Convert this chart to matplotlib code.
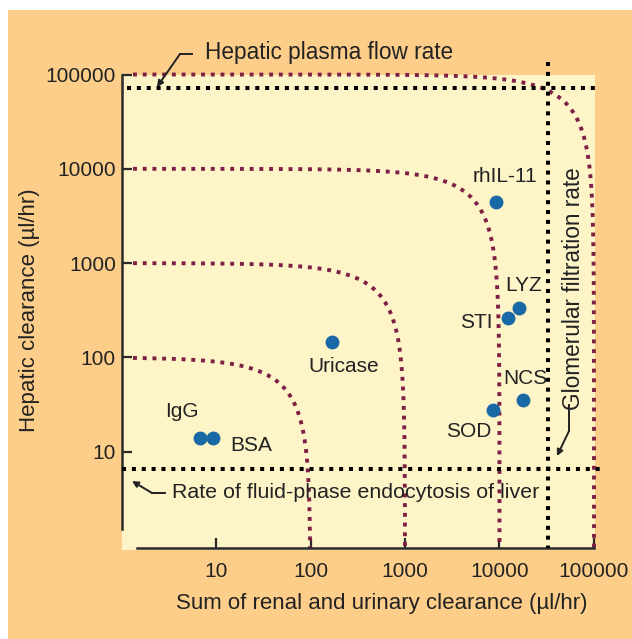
import numpy as np
import matplotlib
matplotlib.use("Agg")
import matplotlib.pyplot as plt
from matplotlib.patches import Rectangle, FancyArrowPatch
from matplotlib.lines import Line2D

plt.rcParams["font.family"] = ["Liberation Sans", "DejaVu Sans"]

# ---- data ---------------------------------------------------------------
proteins = ["IgG", "BSA", "Uricase", "rhIL-11", "LYZ", "STI", "NCS", "SOD"]
renal_clearance = [6.7, 9.4, 168, 9200, 16000, 12300, 17900, 8500]      # µl/hr
hepatic_clearance = [14, 14, 147, 4500, 334, 262, 35, 28]             # µl/hr

# iso-clearance contours: renal + hepatic = total
total_clearance_levels = [100, 1000, 10000, 100000]

hepatic_plasma_flow = 72000       # µl/hr
fluid_phase_endocytosis = 6.5     # µl/hr
glomerular_filtration = 32600     # µl/hr

tick_values = [10, 100, 1000, 10000, 100000]
tick_labels = ["10", "100", "1000", "10000", "100000"]

# ---- styling ------------------------------------------------------------
W, H = 632, 639
BG = "#FDCE8A"
PANEL = "#FDF4C8"
MAROON = "#7E1F45"
BLUE = "#1869A6"
INK = "#222222"
FS = 15
FS_NOTE = 16.3
FS_AXIS = 16


def fx(px):
    return px / W


def fy(py):
    return 1 - py / H


fig = plt.figure(figsize=(W / 100, H / 100), dpi=100, facecolor="white")
fig.patches.append(Rectangle((fx(8), 0), 1, fy(10), transform=fig.transFigure,
                             facecolor=BG, edgecolor="none", zorder=-10))

# axes mapped so that one decade is ~94.5 px horizontally, ~94.3 px vertically
left_px, right_px, top_px, bottom_px = 121.5, 612, 55, 548
ax = fig.add_axes([fx(left_px), fy(bottom_px),
                   (right_px - left_px) / W, (bottom_px - top_px) / H])
ax.set_xscale("log")
ax.set_yscale("log")
ax.set_xlim(1, 10 ** ((right_px - 121.5) / 94.5))
ax.set_ylim(10 ** (-(bottom_px - 546) / 94.3), 10 ** ((546 - top_px) / 94.3))
ax.set_facecolor("none")

ax.add_patch(Rectangle((1, 10 ** -0.045), 10 ** 5.011 - 1, 1e5 - 10 ** -0.045,
                       facecolor=PANEL, edgecolor="none", zorder=0, clip_on=False))

for s in ["top", "right"]:
    ax.spines[s].set_visible(False)
ax.spines["left"].set_bounds(10 ** 0.18, 1e5)
ax.spines["bottom"].set_bounds(10 ** 0.164, 1e5)
for s in ["left", "bottom"]:
    ax.spines[s].set_linewidth(1.8)
    ax.spines[s].set_color("#2a2a2a")

ax.set_xticks(tick_values)
ax.set_xticklabels(tick_labels)
ax.set_yticks(tick_values)
ax.set_yticklabels(tick_labels)
ax.minorticks_off()
ax.tick_params(axis="both", direction="in", length=7, width=1.6, color="#2a2a2a",
               labelsize=FS, labelcolor=INK)
ax.tick_params(axis="x", pad=10)
ax.tick_params(axis="y", pad=4)

# iso-clearance contours
x_start = 10 ** 0.122
y_end = 10 ** -0.02
for c in total_clearance_levels:
    xa = np.logspace(np.log10(x_start), np.log10(c / 2), 200)
    ya = c - xa
    yb = np.logspace(np.log10(c / 2), np.log10(y_end), 200)
    xb = c - yb
    xs = np.concatenate([xa, xb])
    ys = np.concatenate([ya, yb])
    ax.plot(xs, ys, color=MAROON, lw=2.8, linestyle=(0, (1, 1.5)),
            zorder=2, clip_on=False)

# reference rates
dot = (0, (1, 1.45))
ax.plot([10 ** 0.058, 10 ** 5.063], [hepatic_plasma_flow] * 2, color="black",
        lw=2.9, linestyle=dot, zorder=3, clip_on=False)
ax.plot([1.0, 10 ** 5.116], [fluid_phase_endocytosis] * 2, color="black",
        lw=2.9, linestyle=dot, zorder=3, clip_on=False)
ax.plot([glomerular_filtration] * 2, [10 ** 5.13, 10 ** -0.02], color="black",
        lw=2.9, linestyle=dot, zorder=3, clip_on=False)

# proteins
ax.plot(renal_clearance, hepatic_clearance, "o", color=BLUE, markersize=10,
        markeredgewidth=0, zorder=5, clip_on=False)
label_offsets = {
    "IgG": (-18, 26), "BSA": (38, -8), "Uricase": (12, -25),
    "rhIL-11": (9, 25), "LYZ": (5, 23), "STI": (-32, -5),
    "NCS": (2, 22), "SOD": (-24, -22),
}
for name, xv, yv in zip(proteins, renal_clearance, hepatic_clearance):
    ax.annotate(name, (xv, yv), xytext=label_offsets[name],
                textcoords="offset pixels", ha="center", va="center",
                fontsize=FS, color=INK, zorder=6)

# annotations for reference rates
fig.text(fx(205), fy(53), "Hepatic plasma flow rate", fontsize=FS_NOTE,
         color=INK, ha="left", va="center")
fig.text(fx(172), fy(493), "Rate of fluid-phase endocytosis of liver",
         fontsize=15.4, color=INK, ha="left", va="center", zorder=10)
fig.text(fx(573), fy(289), "Glomerular filtration rate", fontsize=FS_NOTE,
         color=INK, ha="center", va="center", rotation=90)


def pointer(pts):
    xs = [fx(p[0]) for p in pts]
    ys = [fy(p[1]) for p in pts]
    fig.add_artist(Line2D(xs[:2], ys[:2], transform=fig.transFigure,
                          color=INK, lw=1.4))
    fig.add_artist(FancyArrowPatch((xs[1], ys[1]), (xs[2], ys[2]),
                                   transform=fig.transFigure,
                                   arrowstyle="-|>", mutation_scale=9,
                                   color=INK, lw=1.4, shrinkA=0, shrinkB=0))


pointer([(192, 54), (180, 54), (157, 87)])
pointer([(165, 493), (152, 493), (132, 481)])
pointer([(569, 405), (569, 431), (557, 456)])

# axis titles
fig.text(fx(382), fy(604), "Sum of renal and urinary clearance (µl/hr)",
         fontsize=FS_AXIS, color=INK, ha="center", va="center")
fig.text(fx(30), fy(310), "Hepatic clearance (µl/hr)", fontsize=FS_AXIS,
         color=INK, ha="center", va="center", rotation=90)

fig.savefig("out.png", dpi=100, facecolor="white")
